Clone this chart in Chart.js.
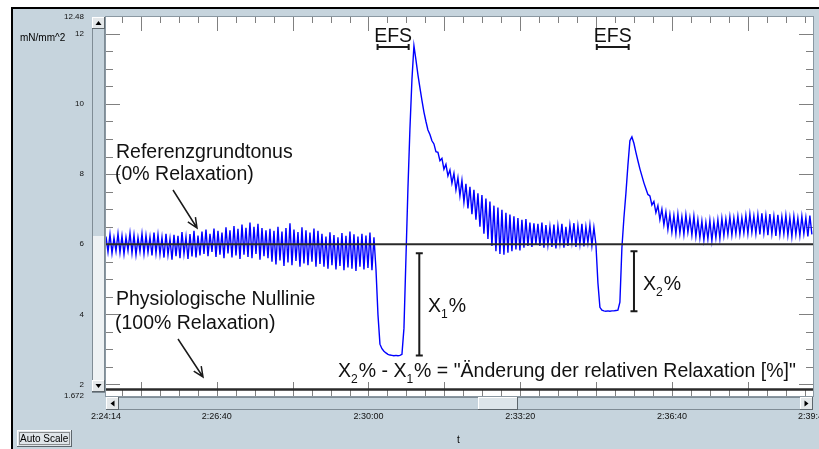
<!DOCTYPE html>
<html>
<head>
<meta charset="utf-8">
<script src="https://cdn.jsdelivr.net/npm/chart.js@4.4.1/dist/chart.umd.min.js"></script>
<style>
  html, body { margin: 0; padding: 0; background: #fff; }
  #wrap { position: relative; width: 819px; height: 449px; }
</style>
</head>
<body>
<div id="wrap"><canvas id="tonus"></canvas></div>
<script>
// time in seconds of the day (2:24:14 = 8654 s)
const startTime = 8654;
const endTime = 9586;
const sampleSec = 2.636;

// tension trace in mN/mm^2, one value per sample
const baselineTone = [
    6.22,5.78, 6.28,5.74, 6.18,5.8, 6.3,5.76, 6.24,5.72, 6.2,5.82, 6.32,5.75, 6.26,5.7, 6.19,5.79, 6.3,5.73, 6.25,5.77, 6.21,5.68, 6.33,5.74, 6.27,5.71,
    6.2,5.62, 6.3,5.7, 6.16,5.56, 6.27,5.66, 6.24,5.6, 6.35,5.72, 6.21,5.58, 6.29,5.65, 6.38,5.62, 6.25,5.68,
    6.36,5.72, 6.42,5.66, 6.3,5.78, 6.45,5.64, 6.38,5.7, 6.33,5.6, 6.48,5.74, 6.4,5.62, 6.52,5.68, 6.44,5.58, 6.56,5.7, 6.47,5.64, 6.62,5.6, 6.5,5.72, 6.58,5.56, 6.46,5.66, 6.4,5.6,
    6.44,5.5, 6.38,5.42, 6.5,5.54, 6.36,5.38, 6.46,5.48, 6.6,5.4, 6.42,5.52, 6.35,5.36, 6.48,5.45, 6.4,5.4, 6.33,5.5, 6.45,5.36, 6.38,5.44,
    6.3,5.36, 6.22,5.3, 6.34,5.4, 6.26,5.28, 6.2,5.38, 6.32,5.26, 6.24,5.34, 6.36,5.3, 6.28,5.24, 6.22,5.36, 6.3,5.28, 6.25,5.32, 6.33,5.26, 6.2
];
const efs1Response = [
    5.3, 4.0, 3.15, 3.02, 2.95, 2.9, 2.86, 2.84, 2.83, 2.82, 2.83, 2.82, 2.83, 2.86,
    3.6, 5.6, 7.6, 9.3, 10.7, 11.66, 11.26, 10.83, 10.46, 10.1, 9.77, 9.5, 9.26,
    9.13,8.95, 8.86,8.64, 8.62,8.38, 8.45,8.14, 8.28,7.95, 8.12,7.74, 8.02,7.55, 7.9,7.38, 7.82,7.2, 7.72,7.02,
    7.64,6.86, 7.55,6.7, 7.45,6.5, 7.4,6.3, 7.3,6.15, 7.22,5.95, 7.1,5.8, 7.05,5.72, 6.98,5.7, 6.9,5.76,
    6.85,5.8, 6.8,5.85, 6.75,5.82, 6.7,5.9, 6.72,5.95, 6.62,5.92, 6.6,6.0, 6.58,5.95, 6.62,5.9, 6.55,5.98,
    6.5,5.92, 6.56,5.88, 6.52,6.02, 6.58,5.9, 6.5,5.95, 6.55,6.05, 6.6,5.92, 6.52,6.0, 6.58,5.94, 6.5,6.04,
    6.55,5.96, 6.48,6.0
];
const efs2Response = [
    4.9, 4.2, 4.12, 4.1, 4.09, 4.1, 4.09, 4.1, 4.1, 4.11, 4.12, 4.35,
    5.9, 6.75, 7.45, 8.25, 8.95, 9.06, 8.88, 8.62, 8.38, 8.15, 7.95, 7.75, 7.58, 7.42,
    7.38,7.12, 7.22,6.9, 7.1,6.7, 7.0,6.55, 6.92,6.42, 6.85,6.35, 6.82,6.3, 6.86,6.32, 6.78,6.28, 6.84,6.34,
    6.76,6.26, 6.8,6.22, 6.7,6.18, 6.66,6.12, 6.62,6.15, 6.68,6.1, 6.64,6.18, 6.7,6.16, 6.74,6.24, 6.72,6.28,
    6.78,6.26, 6.75,6.3, 6.8,6.28, 6.76,6.32, 6.82,6.3, 6.86,6.34, 6.8,6.3, 6.84,6.28, 6.88,6.32, 6.82,6.26,
    6.86,6.3, 6.8,6.24, 6.84,6.28, 6.78,6.3, 6.82,6.26, 6.76,6.22, 6.8,6.28, 6.74,6.24, 6.8,6.3, 6.76,6.22,
    6.82,6.28
];

const xTickTimes = [8654, 8800, 9000, 9200, 9400, 9586];
const yTickValues = [1.672, 2, 4, 6, 8, 10, 12, 12.48];
const yMin = 1.672, yMax = 12.48;

const referenceTone = 6.0;   // Referenzgrundtonus
const nullLine = 1.86;       // physiologische Nullinie

const efsWindows = [[9012, 9053], [9301, 9343]];
const bracketTimes = [9067, 9350];
const bracketTop = [5.74, 5.8];
const bracketBottom = [2.83, 4.09];

const FONT = '"Liberation Sans", Arial, sans-serif';
const frameBg = '#c6d4dd';

const trace = baselineTone.concat(efs1Response, efs2Response)
    .map((v, i) => ({x: startTime + i * sampleSec, y: v}));

function hms(s) {
    s = Math.round(s);
    const h = Math.floor(s / 3600), m = Math.floor(s % 3600 / 60), sec = s % 60;
    return h + ':' + String(m).padStart(2, '0') + ':' + String(sec).padStart(2, '0');
}

function bevel(ctx, x, y, w, h, face) {
    ctx.fillStyle = face;
    ctx.fillRect(x, y, w, h);
    ctx.fillStyle = '#ffffff';
    ctx.fillRect(x, y, w, 1);
    ctx.fillRect(x, y, 1, h);
    ctx.fillStyle = '#5d666c';
    ctx.fillRect(x, y + h - 1, w, 1);
    ctx.fillRect(x + w - 1, y, 1, h);
}

function tri(ctx, cx, cy, dir) {
    ctx.fillStyle = '#000';
    ctx.beginPath();
    if (dir === 'up') { ctx.moveTo(cx - 3, cy + 2); ctx.lineTo(cx + 3, cy + 2); ctx.lineTo(cx, cy - 2); }
    if (dir === 'down') { ctx.moveTo(cx - 3, cy - 2); ctx.lineTo(cx + 3, cy - 2); ctx.lineTo(cx, cy + 2); }
    if (dir === 'left') { ctx.moveTo(cx + 2, cy - 3); ctx.lineTo(cx + 2, cy + 3); ctx.lineTo(cx - 2, cy); }
    if (dir === 'right') { ctx.moveTo(cx - 2, cy - 3); ctx.lineTo(cx - 2, cy + 3); ctx.lineTo(cx + 2, cy); }
    ctx.closePath();
    ctx.fill();
}

function arrow(ctx, x1, y1, x2, y2) {
    const ang = Math.atan2(y2 - y1, x2 - x1), len = 11, spread = 0.42;
    ctx.beginPath();
    ctx.moveTo(x1, y1);
    ctx.lineTo(x2, y2);
    ctx.moveTo(x2 - len * Math.cos(ang - spread), y2 - len * Math.sin(ang - spread));
    ctx.lineTo(x2, y2);
    ctx.lineTo(x2 - len * Math.cos(ang + spread), y2 - len * Math.sin(ang + spread));
    ctx.stroke();
}

// parts starting with "_" are subscripts
function richText(ctx, parts, x, y, size) {
    parts.forEach(p => {
        const sub = p[0] === '_';
        const t = sub ? p.slice(1) : p;
        ctx.font = (sub ? size * 0.62 : size) + 'px ' + FONT;
        ctx.fillText(t, x, sub ? y + size * 0.3 : y);
        x += ctx.measureText(t).width + (sub ? 1 : 0);
    });
}

const labChart = {
    id: 'labChart',
    beforeDraw(chart) {
        const ctx = chart.ctx, a = chart.chartArea, W = chart.width, H = chart.height;
        ctx.save();
        ctx.fillStyle = '#fff';
        ctx.fillRect(0, 0, W, H);
        ctx.fillStyle = frameBg;
        ctx.fillRect(12, 8, W - 12, H - 8);
        ctx.fillStyle = '#000';
        ctx.fillRect(11, 7, W - 11, 2);
        ctx.fillRect(11, 7, 2, H - 7);

        // plot window
        ctx.fillStyle = '#fff';
        ctx.fillRect(a.left, a.top, a.right - a.left, a.bottom - a.top);
        ctx.strokeStyle = '#8a98a2';
        ctx.lineWidth = 1;
        ctx.strokeRect(a.left - 0.5, a.top - 0.5, a.right - a.left + 1, a.bottom - a.top + 1);

        // vertical scroll bar
        ctx.strokeStyle = '#7f8c95';
        ctx.strokeRect(92.5, a.top + 0.5, 12, 375);
        ctx.fillStyle = '#eef2f4';
        ctx.fillRect(93, 236, 11, 144);
        bevel(ctx, 92, a.top, 13, 12, '#e4e8ea');
        tri(ctx, 98.5, a.top + 6, 'up');
        bevel(ctx, 92, 380, 13, 12, '#e4e8ea');
        tri(ctx, 98.5, 386, 'down');

        // horizontal scroll bar
        ctx.strokeStyle = '#7f8c95';
        ctx.strokeRect(a.left + 0.5, 397.5, a.right - a.left - 1, 12);
        bevel(ctx, a.left, 397, 13, 13, '#e4e8ea');
        tri(ctx, a.left + 6.5, 403.5, 'left');
        bevel(ctx, a.right - 13, 397, 13, 13, '#e4e8ea');
        tri(ctx, a.right - 6.5, 403.5, 'right');
        bevel(ctx, 478, 397, 40, 13, '#dde5ea');

        // Auto Scale button
        bevel(ctx, 17, 430, 55, 17, '#dfe5e9');
        ctx.setLineDash([1, 1]);
        ctx.strokeStyle = '#333';
        ctx.strokeRect(19.5, 432.5, 50, 12);
        ctx.setLineDash([]);
        ctx.fillStyle = '#000';
        ctx.font = '10px ' + FONT;
        ctx.textBaseline = 'alphabetic';
        ctx.fillText('Auto Scale', 20, 442);
        ctx.fillText('t', 457, 443);
        ctx.fillText('mN/mm^2', 20, 41);
        ctx.restore();
    },
    beforeDatasetsDraw(chart) {
        const ctx = chart.ctx, a = chart.chartArea, xs = chart.scales.x, ys = chart.scales.y;
        ctx.save();
        ctx.strokeStyle = '#808080';
        ctx.lineWidth = 1;
        ctx.beginPath();
        for (let t = Math.ceil(startTime / 25) * 25; t < endTime; t += 25) {
            const px = Math.round(xs.getPixelForValue(t)) + 0.5;
            const len = t % 100 === 0 ? 14 : 6;
            ctx.moveTo(px, a.top); ctx.lineTo(px, a.top + len);
            ctx.moveTo(px, a.bottom); ctx.lineTo(px, a.bottom - len);
        }
        for (let v = 2; v <= 12; v += 0.5) {
            const py = Math.round(ys.getPixelForValue(v)) + 0.5;
            const len = v % 2 === 0 ? 14 : 7;
            ctx.moveTo(a.left, py); ctx.lineTo(a.left + len, py);
            ctx.moveTo(a.right, py); ctx.lineTo(a.right - len, py);
        }
        ctx.stroke();
        ctx.restore();
    },
    afterDatasetsDraw(chart) {
        const ctx = chart.ctx, xs = chart.scales.x, ys = chart.scales.y;
        const size = 19.5;
        ctx.save();
        ctx.fillStyle = '#111';
        ctx.strokeStyle = '#1a1a1a';
        ctx.font = size + 'px ' + FONT;
        ctx.textBaseline = 'alphabetic';

        ctx.fillText('Referenzgrundtonus', 116, 158);
        ctx.fillText('(0% Relaxation)', 115, 180);
        ctx.fillText('Physiologische Nullinie', 116, 305);
        ctx.fillText('(100% Relaxation)', 115, 329);
        ctx.lineWidth = 1.5;
        arrow(ctx, 173, 190, 197, 228);
        arrow(ctx, 178, 339, 203, 377);

        // EFS stimulation windows
        ctx.lineWidth = 2;
        efsWindows.forEach(w => {
            const x1 = xs.getPixelForValue(w[0]), x2 = xs.getPixelForValue(w[1]);
            ctx.beginPath();
            ctx.moveTo(x1, 47); ctx.lineTo(x2, 47);
            ctx.moveTo(x1, 44); ctx.lineTo(x1, 50);
            ctx.moveTo(x2, 44); ctx.lineTo(x2, 50);
            ctx.stroke();
            ctx.font = size + 'px ' + FONT;
            ctx.textAlign = 'center';
            ctx.fillText('EFS', (x1 + x2) / 2, 42);
            ctx.textAlign = 'left';
        });

        // X1 / X2 brackets
        bracketTimes.forEach((t, i) => {
            const px = xs.getPixelForValue(t);
            const y1 = ys.getPixelForValue(bracketTop[i]), y2 = ys.getPixelForValue(bracketBottom[i]);
            ctx.beginPath();
            ctx.moveTo(px, y1); ctx.lineTo(px, y2);
            ctx.moveTo(px - 3.5, y1); ctx.lineTo(px + 3.5, y1);
            ctx.moveTo(px - 3.5, y2); ctx.lineTo(px + 3.5, y2);
            ctx.stroke();
        });
        richText(ctx, ['X', '_1', '%'], 428, 312, size);
        richText(ctx, ['X', '_2', '%'], 643, 290, size);
        richText(ctx, ['X', '_2', '% - X', '_1', '% = "\u00c4nderung der relativen Relaxation [%]"'], 338, 377, size);
        ctx.restore();
    }
};

const tonus = new Chart(
    document.getElementById('tonus'),
    {
    type: 'line',
    data: {
        datasets: [{
            label: 'Referenzgrundtonus',
            data: [{x: startTime, y: referenceTone}, {x: endTime, y: referenceTone}],
            borderColor: '#2a2a2a',
            borderWidth: 2,
            pointRadius: 0
        }, {
            label: 'Nullinie',
            data: [{x: startTime, y: nullLine}, {x: endTime, y: nullLine}],
            borderColor: '#2a2a2a',
            borderWidth: 2.5,
            pointRadius: 0
        }, {
            label: 'Tonus',
            data: trace,
            borderColor: '#0000ff',
            borderWidth: 1.4,
            pointRadius: 0,
            tension: 0
        }]
    },
    options: {
        responsive: true,
        maintainAspectRatio: false,
        animation: false,
        events: [],
        layout: { padding: { left: 46, top: 17, right: 6, bottom: 23 } },
        scales: {
            x: {
                type: 'linear',
                min: startTime,
                max: endTime,
                grid: { display: false, drawTicks: false },
                border: { display: false },
                afterBuildTicks: s => { s.ticks = xTickTimes.map(v => ({value: v})); },
                afterFit: s => { s.height = 30; s.paddingLeft = 0; s.paddingRight = 0; },
                ticks: {
                    autoSkip: false,
                    maxRotation: 0,
                    padding: 15,
                    color: '#111',
                    font: { family: FONT, size: 9 },
                    callback: v => hms(v)
                }
            },
            y: {
                min: yMin,
                max: yMax,
                grid: { display: false, drawTicks: false },
                border: { display: false },
                afterBuildTicks: s => { s.ticks = yTickValues.map(v => ({value: v})); },
                afterFit: s => { s.width = 60; s.paddingTop = 0; s.paddingBottom = 0; },
                ticks: {
                    autoSkip: false,
                    padding: 22,
                    color: '#111',
                    font: { family: FONT, size: 8 },
                    callback: v => String(v)
                }
            }
        },
        plugins: {
            legend: { display: false },
            tooltip: { enabled: false }
        }
    },
    plugins: [labChart]
    }
);
</script>
</body>
</html>
